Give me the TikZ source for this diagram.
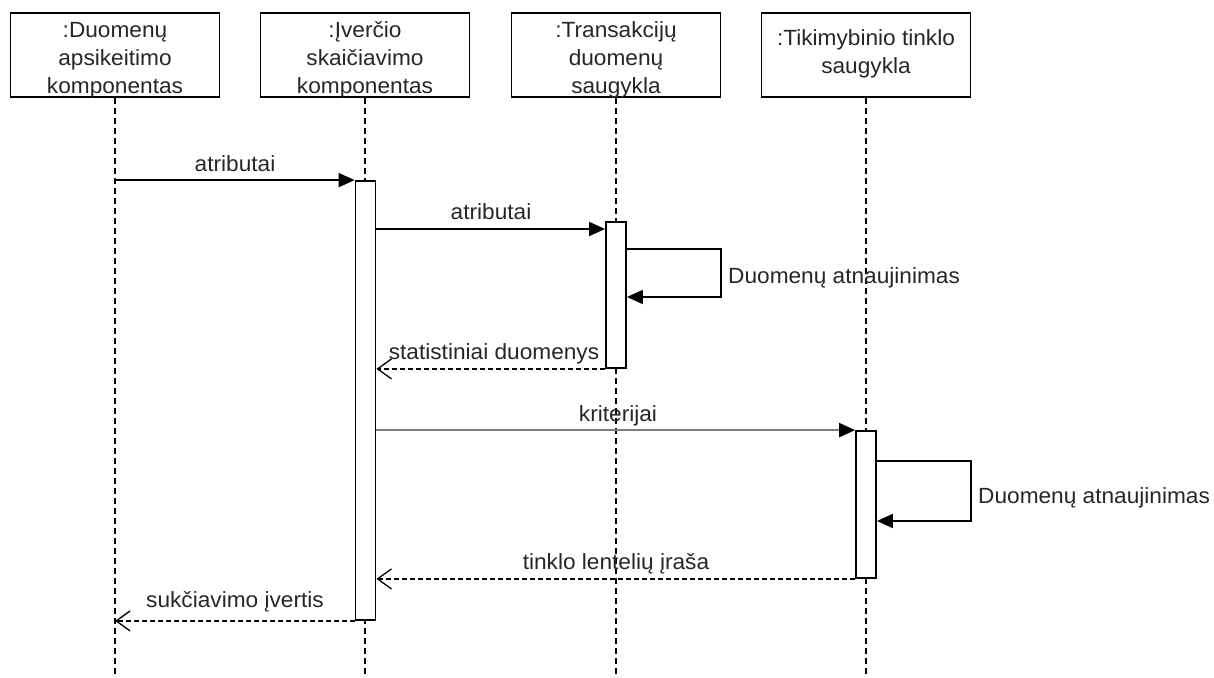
\documentclass[tikz,border=0pt]{standalone}
\usepackage{fontspec}
\setmainfont[FakeStretch=1.03]{Liberation Sans}
\usetikzlibrary{arrows.meta}
\begin{document}
\begin{tikzpicture}[x=1pt,y=-1pt,
  every node/.style={font=\fontsize{22}{28}\selectfont, text=black!85},
  head/.style={draw, line width=1.8pt, minimum width=209pt, minimum height=84pt, inner sep=0pt},
  headtext/.style={align=center, inner sep=0pt},
  life/.style={draw, line width=1.4pt, dash pattern=on 6pt off 4pt},
  bar/.style={draw, fill=white, line width=1.8pt, minimum width=20pt, inner sep=0pt},
  call/.style={line width=1.8pt, -{Triangle[length=16pt,width=14pt,color=black]}},
  reply/.style={line width=1.3pt, dash pattern=on 5pt off 3pt,
    -{Straight Barb[length=14pt,width=20pt,line width=1.3pt]}},
  lbl/.style={inner sep=0pt, anchor=base},
  side/.style={inner sep=0pt, anchor=base west}
]
\useasboundingbox (0,0) rectangle (1214,677);

% lifeline heads
\node[head] (h1) at (115,55) {};
\node[head] (h2) at (365,55) {};
\node[head] (h3) at (616,55) {};
\node[head] (h4) at (866,55) {};
\node[headtext] (t1) at (115,60) {:Duomenų\\apsikeitimo\\komponentas};
\node[headtext] (t2) at (365,60) {:Įverčio\\skaičiavimo\\komponentas};
\node[headtext] (t3) at (616,60) {:Transakcijų\\duomenų\\saugykla};
\node[headtext] (t4) at (866,54) {:Tikimybinio tinklo\\saugykla};

% lifelines
\coordinate (e1) at (115,677);
\coordinate (e2) at (365,677);
\coordinate (e3) at (616,677);
\coordinate (e4) at (866,677);
\draw[life] (h1.south) -- (e1);
\draw[life] (h2.south) -- (e2);
\draw[life] (h3.south) -- (e3);
\draw[life] (h4.south) -- (e4);

% activation bars
\node[bar, minimum height=439pt] (b2) at (365.5,400.5) {};
\node[bar, minimum height=146pt] (b3) at (616,295) {};
\node[bar, minimum height=147pt] (b4) at (866,504.5) {};

% messages
\draw[call] (h1 |- b2.north west) -- (b2.north west);
\node[lbl] (l1) at (235,171.5) {atributai};

\coordinate (y2) at (0,229);
\draw[call] (b2.east |- y2) -- (b3.west |- y2);
\node[lbl] (l2) at (491,219) {atributai};

\coordinate (s3a) at (721,249);
\coordinate (s3b) at (721,297);
\draw[call] (b3.east |- s3a) -- (s3a) -- (s3b) -- (b3.east |- s3b);
\node[side] (l3) at (728,283) {Duomenų atnaujinimas};

\draw[reply] (b3.south west) -- (b2.east |- b3.south west);
\node[lbl] (l4) at (494,359) {statistiniai duomenys};

\draw[call, draw=black!50, line width=2.4pt] (b2.east |- b4.north west) -- (b4.north west);
\node[lbl] (l5) at (618,421.5) {kriterijai};

\coordinate (s4a) at (971,461);
\coordinate (s4b) at (971,521);
\draw[call] (b4.east |- s4a) -- (s4a) -- (s4b) -- (b4.east |- s4b);
\node[side] (l6) at (978,503) {Duomenų atnaujinimas};

\draw[reply] (b4.south west) -- (b2.east |- b4.south west);
\node[lbl] (l7) at (616,569) {tinklo lentelių įraša};

\draw[reply] (b2.south west) -- (h1 |- b2.south west);
\node[lbl] (l8) at (235,607.5) {sukčiavimo įvertis};
\end{tikzpicture}
\end{document}
